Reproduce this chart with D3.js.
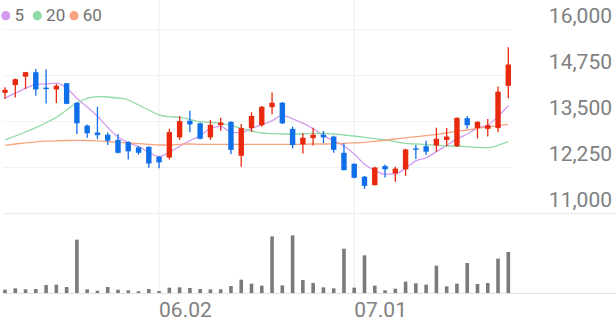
<!DOCTYPE html>
<html><head><meta charset="utf-8">
<script src="https://cdn.jsdelivr.net/npm/d3@7"></script>
<style>
body{margin:0;background:#fff;}
svg{display:block;font-family:Roboto,"Noto Sans",sans-serif;}
</style>
</head><body>
<svg id="chart" width="616" height="321"></svg>
<script>
// ---------- data ----------
const dates = [
"2025-05-12","2025-05-13","2025-05-14","2025-05-15","2025-05-16","2025-05-19","2025-05-20","2025-05-21","2025-05-22","2025-05-23",
"2025-05-26","2025-05-27","2025-05-28","2025-05-29","2025-05-30","2025-06-02","2025-06-04","2025-06-05","2025-06-09","2025-06-10",
"2025-06-11","2025-06-12","2025-06-13","2025-06-16","2025-06-17","2025-06-18","2025-06-19","2025-06-20","2025-06-23","2025-06-24",
"2025-06-25","2025-06-26","2025-06-27","2025-06-30","2025-07-01","2025-07-02","2025-07-03","2025-07-04","2025-07-07","2025-07-08",
"2025-07-09","2025-07-10","2025-07-11","2025-07-14","2025-07-15","2025-07-16","2025-07-17","2025-07-18","2025-07-21","2025-07-22"];
const openP = [14280,14490,14720,14840,14420,14370,14540,14010,13390,13200,13140,13000,12940,12800,12810,12540,12520,13070,13520,13450,
13070,13400,13490,12570,13320,13400,13890,14010,13300,12880,13050,13140,13090,12650,12350,12000,11770,12290,12090,12200,
12770,12830,12850,13000,12830,13590,13320,13300,13320,14470];
const highP = [14430,14670,14850,14930,14920,14520,14550,14020,13420,13900,13200,13160,12960,12830,12830,12560,13300,13650,13790,13470,
13540,13600,13510,13430,13750,13920,14290,14030,13360,13180,13330,13240,13110,12910,12360,12020,12270,12330,12270,12760,
12860,12980,13330,13320,13610,13650,13510,13570,14450,15520];
const lowP = [14110,14150,14380,14200,13990,14000,13970,13160,13060,13020,12860,12630,12470,12600,12240,12230,12470,13000,13210,13020,
13000,13250,12610,12270,13220,13360,13700,13430,12770,12630,12850,12910,12650,12170,11960,11670,11760,11980,11860,12020,
12480,12590,12680,12830,12810,13300,13040,13090,13210,14130];
const closeP = [14360,14650,14840,14370,14380,14470,13980,13450,13180,13130,12980,12650,12690,12650,12360,12390,13210,13510,13420,13030,
13410,13470,12730,13320,13650,13900,14010,13450,12860,13060,13140,13070,12730,12180,11970,11750,12250,12200,12220,12740,
12730,12680,13030,13090,13600,13400,13490,13400,14310,15050];
const volume = [100000,140000,110000,120000,240000,250000,180000,1600000,110000,70000,180000,100000,80000,50000,120000,60000,160000,170000,150000,120000,
110000,110000,210000,400000,280000,220000,1700000,230000,1730000,390000,300000,170000,140000,1330000,160000,1130000,220000,80000,130000,340000,
290000,250000,820000,200000,280000,900000,270000,300000,1030000,1230000];
const ma5 = [14130,14270,14400,14510,14520,14542,14408,14130,13892,13642,13344,13078,12926,12820,12666,12548,12660,12824,12978,13112,
13316,13368,13212,13192,13316,13414,13522,13666,13574,13456,13304,13116,12972,12836,12618,12340,12176,12070,12078,12232,
12428,12514,12680,12854,13026,13160,13322,13396,13640,13930];
const ma20 = [13000,13106,13215,13332,13467,13614,13812,14011,14130,14174,14166,14139,14084,13948,13812,13677,13630,13614,13560,13495,
13478,13451,13397,13315,13242,13188,13168,13160,13160,13160,13179,13179,13160,13133,13106,13071,13033,13000,12951,12908,
12889,12870,12853,12834,12834,12815,12799,12788,12853,12951];
const ma60 = [12853,12889,12921,12948,12965,12976,12984,12986,12984,12976,12957,12935,12916,12897,12880,12861,12867,12880,12889,12880,
12880,12880,12880,12880,12880,12880,12880,12880,12880,12880,12889,12889,12897,12908,12920,12935,12960,12990,13024,13057,
13087,13114,13152,13188,13234,13269,13315,13351,13386,13424];
const yTicks = [11000,12250,13500,14750,16000];
const xTickDates = ["2025-06-02","2025-07-01"];
const xTickLabels = ["06.02","07.01"];
const maNames = ["5","20","60"];
const maColors = ["#d39bef","#8fdaa4","#f7a47f"];
const upColor = "#e8290d", downColor = "#0f6fe9";

// ---------- scales ----------
const svg = d3.select("#chart");
const x = d3.scalePoint().domain(dates).range([5, 508.3]);
const y = d3.scaleLinear().domain([11000,16000]).range([213.5,29.5]);
const yv = d3.scaleLinear().domain([0,1800000]).range([293,233]);

// ---------- grid ----------
const grid = svg.append("g");
grid.selectAll("line.h").data(yTicks).join("line")
  .attr("x1",3).attr("x2",d=>d===11000?616:512)
  .attr("y1",d=>y(d)).attr("y2",d=>y(d))
  .attr("stroke",d=>d===11000?"#ebebeb":"#f2f2f2").attr("stroke-width",1.2);
grid.selectAll("line.v").data(xTickDates).join("line")
  .attr("x1",d=>x(d)).attr("x2",d=>x(d))
  .attr("y1",0).attr("y2",293)
  .attr("stroke","#f0f0f0").attr("stroke-width",1.2);
grid.append("line").attr("x1",3).attr("x2",616).attr("y1",293.5).attr("y2",293.5)
  .attr("stroke","#e2e2e2").attr("stroke-width",1.2);

// ---------- y labels ----------
svg.append("g").selectAll("text").data(yTicks).join("text")
  .attr("x",612).attr("y",d=>y(d)-6.8)
  .attr("text-anchor","end").attr("font-size",21).attr("fill","#808080")
  .text(d=>d3.format(",")(d));

// ---------- x labels ----------
svg.append("g").selectAll("text").data(xTickDates).join("text")
  .attr("x",d=>x(d)).attr("y",316.5)
  .attr("text-anchor","start").attr("font-size",21).attr("fill","#808080")
  .text((d,i)=>xTickLabels[i]);

// ---------- MA lines ----------
const maSeries = [ma5, ma20, ma60];
const line = d3.line().x((d,i)=>x(dates[i])).y(d=>y(d)).curve(d3.curveMonotoneX);
svg.append("g").selectAll("path").data(maSeries).join("path")
  .attr("d",d=>line(d)).attr("fill","none")
  .attr("stroke",(d,i)=>maColors[i]).attr("stroke-width",1.3);

// ---------- candles ----------
const idx = d3.range(dates.length);
const cg = svg.append("g");
cg.selectAll("line").data(idx).join("line")
  .attr("x1",i=>x(dates[i])).attr("x2",i=>x(dates[i]))
  .attr("y1",i=>y(highP[i])).attr("y2",i=>y(lowP[i]))
  .attr("stroke",i=>closeP[i]>=openP[i]?upColor:downColor).attr("stroke-width",1.3);
cg.selectAll("rect").data(idx).join("rect")
  .attr("x",i=>x(dates[i])-2.7).attr("width",5.4)
  .attr("y",i=>y(Math.max(openP[i],closeP[i])))
  .attr("height",i=>Math.max(1.2, y(Math.min(openP[i],closeP[i]))-y(Math.max(openP[i],closeP[i]))))
  .attr("fill",i=>closeP[i]>=openP[i]?upColor:downColor);

// ---------- volume ----------
svg.append("g").selectAll("rect").data(idx).join("rect")
  .attr("x",i=>x(dates[i])-1.8).attr("width",3.6)
  .attr("y",i=>yv(volume[i])).attr("height",i=>yv(0)-yv(volume[i]))
  .attr("fill","#7b7b7b");

// ---------- legend ----------
const legendX = [5.8, 37.3, 74];
const lg = svg.append("g");
lg.selectAll("circle").data(maNames).join("circle")
  .attr("cx",(d,i)=>legendX[i]).attr("cy",15.7).attr("r",4.6)
  .attr("fill",(d,i)=>maColors[i]);
lg.selectAll("text").data(maNames).join("text")
  .attr("x",(d,i)=>legendX[i]+8.8).attr("y",21.4)
  .attr("font-size",17).attr("fill","#707070")
  .text(d=>d);
</script>
</body></html>
